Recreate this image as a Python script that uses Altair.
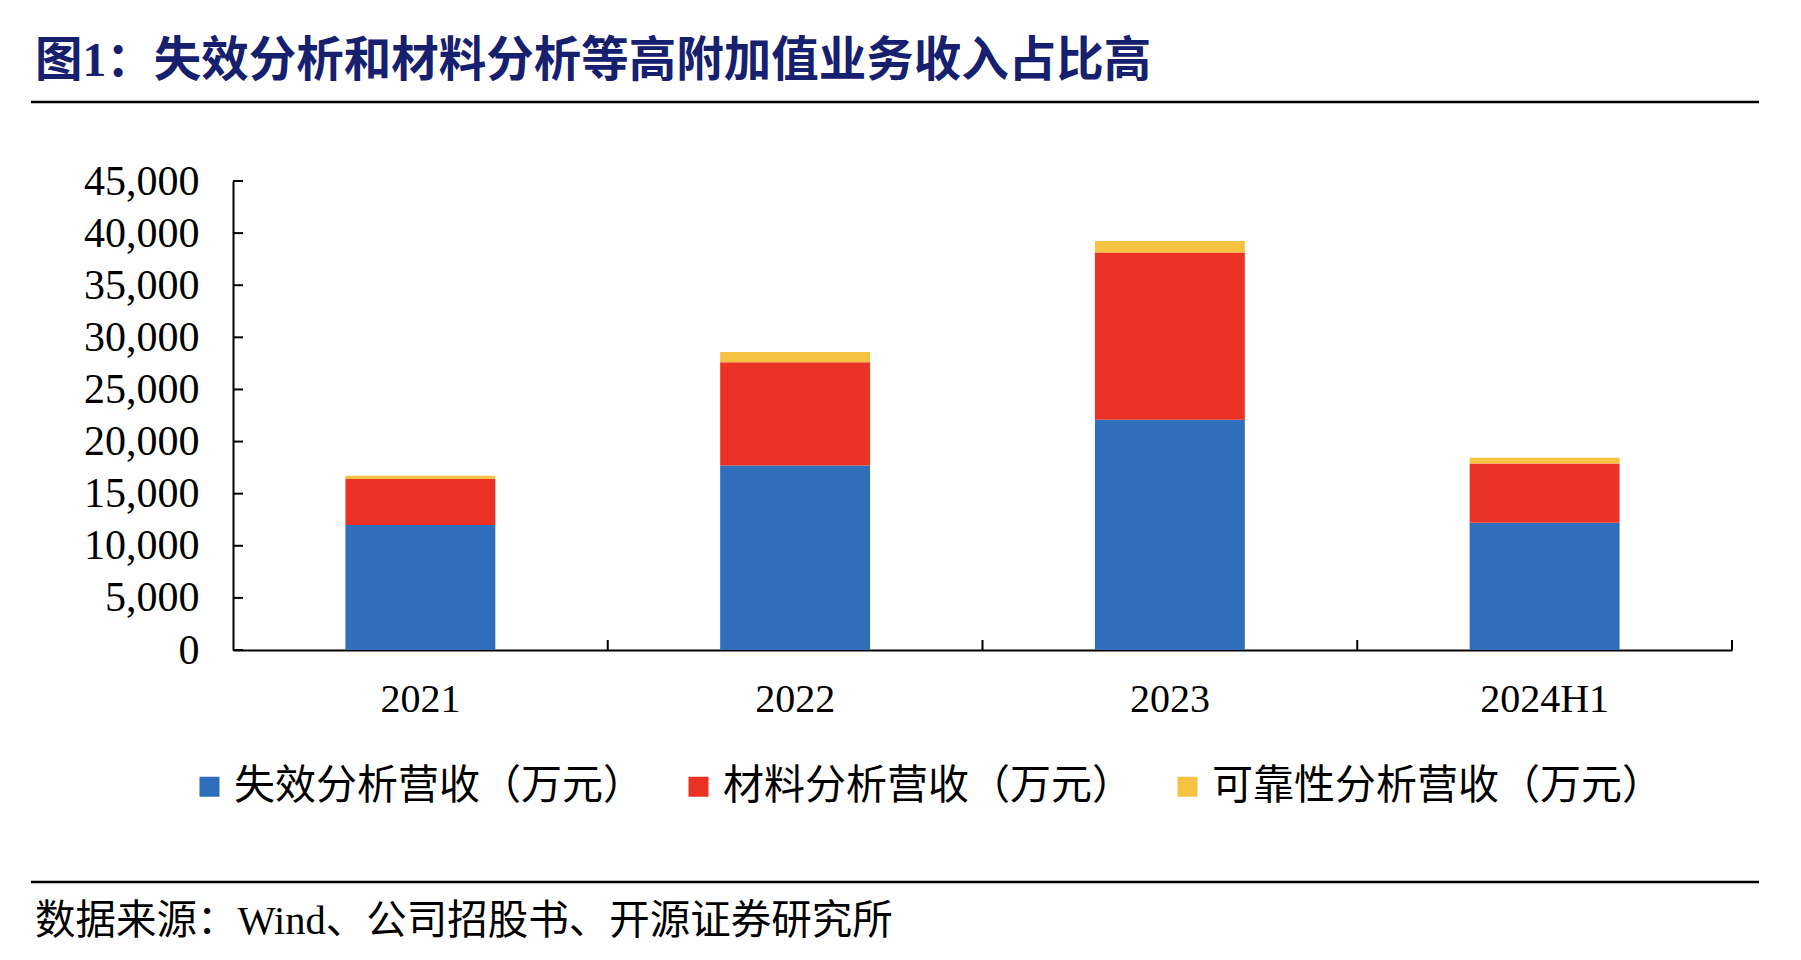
import altair as alt
import pandas as pd

categories = ["2021", "2022", "2023", "2024H1"]
series_names = ["失效分析营收（万元）", "材料分析营收（万元）", "可靠性分析营收（万元）"]
failure_rev = [12000, 17700, 22100, 12200]
material_rev = [4400, 9900, 16050, 5700]
reliability_rev = [330, 1000, 1100, 550]
colors = ["#2F6EBA", "#EA3324", "#F5C242"]
y_ticks = [0, 5000, 10000, 15000, 20000, 25000, 30000, 35000, 40000, 45000]

title_text = "图1：失效分析和材料分析等高附加值业务收入占比高"
source_text = "数据来源：Wind、公司招股书、开源证券研究所"

rows = []
for si, (name, vals) in enumerate(zip(series_names, [failure_rev, material_rev, reliability_rev])):
    for c, v in zip(categories, vals):
        rows.append({"cat": c, "series": name, "value": v, "idx": si})
df = pd.DataFrame(rows)

W, H = 1499, 469
FONT = "Liberation Serif, Noto Sans CJK SC"

x_axis = alt.Axis(labelFont=FONT, labelFontSize=40, labelColor="black",
                  labelAngle=0, ticks=False, labelPadding=29, grid=False,
                  domainColor="black", domainWidth=2)
y_axis = alt.Axis(values=y_ticks, format=",.0f", labelFont=FONT, labelFontSize=42,
                  labelColor="black", ticks=False, labelPadding=34,
                  domainColor="black", domainWidth=2, grid=False)
x_scale = alt.Scale(paddingInner=0, paddingOuter=0)
y_scale = alt.Scale(domain=[0, 45000], nice=False)

bars = alt.Chart(df).mark_bar(width={"band": 0.4}).encode(
    x=alt.X("cat:N", sort=categories, title=None, scale=x_scale, axis=x_axis),
    y=alt.Y("value:Q", stack="zero", title=None, scale=y_scale, axis=y_axis),
    color=alt.Color("series:N", scale=alt.Scale(domain=series_names, range=colors),
                    legend=alt.Legend(title=None, orient="none", direction="horizontal",
                                      legendX=-44, legendY=585, symbolType="square",
                                      symbolSize=400, symbolStrokeWidth=0,
                                      labelFont=FONT, labelFontSize=41, labelColor="black",
                                      labelOffset=4, columnPadding=34, padding=0,
                                      labelLimit=0)),
    order=alt.Order("idx:Q", sort="ascending"),
)

ytick_df = pd.DataFrame({"value": y_ticks})
yticks = alt.Chart(ytick_df).mark_rule(color="black", strokeWidth=2).encode(
    y=alt.Y("value:Q", title=None, scale=y_scale, axis=y_axis),
    x=alt.value(0), x2=alt.value(10))

xtick_df = pd.DataFrame({"cat": categories})
xticks = alt.Chart(xtick_df).mark_rule(color="black", strokeWidth=2).encode(
    x=alt.X("cat:N", sort=categories, bandPosition=1, title=None, scale=x_scale, axis=x_axis),
    y=alt.value(H), y2=alt.value(H - 10))

title_df = pd.DataFrame({"t": [title_text]})
title = alt.Chart(title_df).mark_text(align="left", baseline="middle", font=FONT,
                                      fontSize=47.5, fontWeight="bold", color="#16206E").encode(
    text="t:N", x=alt.value(-198), y=alt.value(-119))

src_df = pd.DataFrame({"t": [source_text]})
source = alt.Chart(src_df).mark_text(align="left", baseline="middle", font=FONT,
                                     fontSize=40.5, color="black").encode(
    text="t:N", x=alt.value(-198), y=alt.value(741))

top_rule = alt.Chart(title_df).mark_rule(color="black", strokeWidth=2.5).encode(
    x=alt.value(-202), x2=alt.value(1526), y=alt.value(-79))
bottom_rule = alt.Chart(title_df).mark_rule(color="black", strokeWidth=2.5).encode(
    x=alt.value(-202), x2=alt.value(1526), y=alt.value(701))

chart = alt.layer(bars, yticks, xticks, title, source, top_rule, bottom_rule).properties(
    width=W, height=H,
    autosize=alt.AutoSizeParams(type="none"),
    padding={"left": 225, "top": 173, "right": 61, "bottom": 302},
    background="white",
).configure_view(stroke=None)

chart.save("out.html", embed_options={"renderer": "svg", "actions": False})
